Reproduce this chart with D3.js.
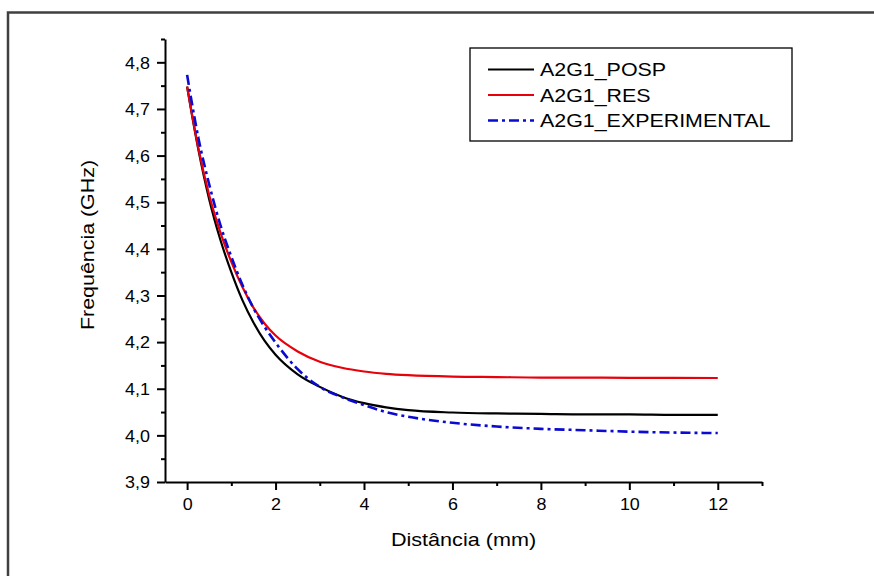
<!DOCTYPE html>
<html>
<head>
<meta charset="utf-8">
<script src="https://cdn.jsdelivr.net/npm/d3@7"></script>
<style>
  body { margin: 0; background: #fff; }
  text { font-family: "Liberation Sans", Arial, Helvetica, sans-serif; fill: #000; }
</style>
</head>
<body>
<svg id="chart" width="874" height="576"></svg>
<script>
// Distance from the resonator (mm) and resonant frequency (GHz) for each model
const distance     = [0, 0.1, 0.25, 0.5, 0.75, 1, 1.25, 1.5, 1.75, 2, 2.5, 3, 3.5, 4, 4.5, 5, 6, 7, 8, 9, 10, 11, 12];
const posp         = [4.748, 4.692, 4.615, 4.506, 4.420, 4.350, 4.290, 4.242, 4.203, 4.173, 4.131, 4.104, 4.083, 4.069, 4.060, 4.054, 4.049, 4.047, 4.046, 4.045, 4.045, 4.044, 4.044];
const res          = [4.748, 4.694, 4.618, 4.515, 4.436, 4.372, 4.318, 4.274, 4.240, 4.214, 4.180, 4.158, 4.145, 4.137, 4.132, 4.129, 4.126, 4.125, 4.124, 4.124, 4.1235, 4.1235, 4.123];
const experimental = [4.773, 4.717, 4.640, 4.538, 4.452, 4.383, 4.323, 4.273, 4.233, 4.199, 4.142, 4.104, 4.082, 4.065, 4.050, 4.040, 4.027, 4.019, 4.014, 4.011, 4.008, 4.006, 4.005];

const seriesNames  = ["A2G1_POSP", "A2G1_RES", "A2G1_EXPERIMENTAL"];
const xMajorTicks  = [0, 2, 4, 6, 8, 10, 12];
const xMinorTicks  = [1, 3, 5, 7, 9, 11, 13];
const yMajorTicks  = [3.9, 4.0, 4.1, 4.2, 4.3, 4.4, 4.5, 4.6, 4.7, 4.8];
const yMinorTicks  = [3.95, 4.05, 4.15, 4.25, 4.35, 4.45, 4.55, 4.65, 4.75, 4.85];
const xTitle = "Distância (mm)";
const yTitle = "Frequência (GHz)";

const svg = d3.select("#chart");

// outer frame (left and top edges only)
svg.append("path")
  .attr("d", "M8,576 V12.5 H874")
  .attr("fill", "none")
  .attr("stroke", "#404040")
  .attr("stroke-width", 2.5);

const x = d3.scaleLinear().domain([-0.5, 13]).range([165, 762]);
const y = d3.scaleLinear().domain([3.9, 4.85]).range([482, 39]);

const stretch = 1.12;   // glyph widening used for tick labels
const commaFmt = d => d3.format(".1f")(d).replace(".", ",");

// x axis
const gx = svg.append("g").attr("transform", `translate(0,${y(3.9)})`);
gx.call(d3.axisBottom(x).tickValues(xMajorTicks).tickSize(8).tickSizeOuter(0).tickFormat(d3.format("d")));
const gxMinor = svg.append("g").attr("transform", `translate(0,${y(3.9)})`);
gxMinor.call(d3.axisBottom(x).tickValues(xMinorTicks).tickSize(4).tickSizeOuter(0).tickFormat(""));
gxMinor.select(".domain").remove();

// y axis
const gy = svg.append("g").attr("transform", `translate(${x(-0.5)},0)`);
gy.call(d3.axisLeft(y).tickValues(yMajorTicks).tickSize(8).tickSizeOuter(0).tickFormat(commaFmt));
const gyMinor = svg.append("g").attr("transform", `translate(${x(-0.5)},0)`);
gyMinor.call(d3.axisLeft(y).tickValues(yMinorTicks).tickSize(4).tickSizeOuter(0).tickFormat(""));
gyMinor.select(".domain").remove();

svg.selectAll(".domain").attr("stroke", "#000").attr("stroke-width", 2);
svg.selectAll(".tick line").attr("stroke", "#000").attr("stroke-width", 2);

gx.selectAll(".tick text")
  .attr("font-size", 16)
  .attr("font-family", "Liberation Sans, Arial, sans-serif")
  .attr("y", 0)
  .attr("dy", null)
  .attr("transform", `translate(0,28) scale(${stretch},1)`);

gy.selectAll(".tick text")
  .attr("font-size", 16)
  .attr("font-family", "Liberation Sans, Arial, sans-serif")
  .attr("x", 0)
  .attr("dy", "0.36em")
  .attr("transform", `translate(-15,0) scale(${stretch},1)`);

// axis titles
svg.append("text")
  .attr("text-anchor", "middle")
  .attr("font-size", 18)
  .attr("transform", `translate(${(x(-0.5) + x(13)) / 2},546) scale(1.2,1)`)
  .text(xTitle);

svg.append("text")
  .attr("text-anchor", "middle")
  .attr("font-size", 18)
  .attr("transform", `translate(94,245) rotate(-90) scale(1.19,1)`)
  .text(yTitle);

// curves
const seriesValues = [posp, res, experimental];
const colors = ["#000000", "#e8000b", "#0a0ad0"];
const dashes = [null, null, "10,4,3,4"];
const widths = [2.2, 2.2, 2.6];

const line = d3.line()
  .x(d => x(d[0]))
  .y(d => y(d[1]))
  .curve(d3.curveMonotoneX);

seriesValues.forEach((vals, i) => {
  svg.append("path")
    .datum(distance.map((d, j) => [d, vals[j]]))
    .attr("fill", "none")
    .attr("stroke", colors[i])
    .attr("stroke-width", widths[i])
    .attr("stroke-dasharray", dashes[i])
    .attr("d", line);
});

// legend
const legend = svg.append("g");
legend.append("rect")
  .attr("x", 470).attr("y", 48)
  .attr("width", 322).attr("height", 93)
  .attr("fill", "#fff")
  .attr("stroke", "#000")
  .attr("stroke-width", 1.3);

const rowY = [69.5, 95, 120.5];
seriesNames.forEach((name, i) => {
  legend.append("line")
    .attr("x1", 488).attr("x2", 534)
    .attr("y1", rowY[i]).attr("y2", rowY[i])
    .attr("stroke", colors[i])
    .attr("stroke-width", widths[i])
    .attr("stroke-dasharray", dashes[i]);
  legend.append("text")
    .attr("font-size", 18)
    .attr("transform", `translate(540,${rowY[i] + 6.5}) scale(1.19,1)`)
    .text(name);
});
</script>
</body>
</html>
